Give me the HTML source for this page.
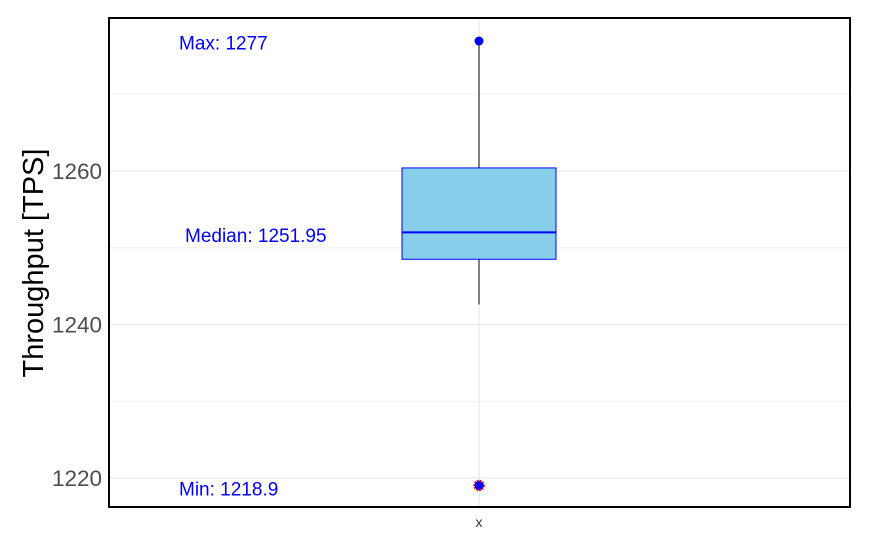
<!DOCTYPE html>
<html><head><meta charset="utf-8"><style>
body{margin:0;background:#fff;font-family:"Liberation Sans",sans-serif}
</style></head><body>
<svg id="c" width="869" height="549" xmlns="http://www.w3.org/2000/svg"></svg>
<script>
const categories=["x"];
const stats={min:1242.6,q1:1248.5,median:1252.0,q3:1260.4,max:1277};
const points=[1277,1218.9];
const labels=["Max: 1277","Median: 1251.95","Min: 1218.9"];
const labelValues=[1277,1251.95,1218.9];
const yTicks=[1220,1240,1260];
const yMinor=[1230,1250,1270];
const NS="http://www.w3.org/2000/svg",svg=document.getElementById('c');
const L=109,R=850,T=18,B=507;
const y=v=>171+(1260-v)*7.675;
const xc=479;
function el(t,a,p){const e=document.createElementNS(NS,t);for(const k in a)e.setAttribute(k,a[k]);(p||svg).appendChild(e);return e;}
el('rect',{x:L,y:T,width:R-L,height:B-T,fill:'#fff'});
yMinor.forEach(v=>{const g=el('line',{x1:L,x2:R,y1:y(v),y2:y(v),stroke:'#f0f0f0','stroke-width':1});

});
yTicks.forEach(v=>{const g=el('line',{x1:L,x2:R,y1:y(v),y2:y(v),stroke:'#e6e6e6','stroke-width':1});


const t=el('text',{x:102,y:y(v)+8,'text-anchor':'end','font-size':22.5,fill:'#4d4d4d'});t.textContent=v;

});
el('line',{x1:xc,x2:xc,y1:T,y2:B,stroke:'#e6e6e6'});
const wl=el('line',{x1:xc,x2:xc,y1:y(stats.max),y2:y(stats.min),stroke:'#000','stroke-width':1});


const bx=el('rect',{x:402,y:y(stats.q3),width:154,height:y(stats.q1)-y(stats.q3),fill:'#87ceeb',stroke:'#0000ff','stroke-width':1});


const md=el('line',{x1:402,x2:556,y1:y(stats.median),y2:y(stats.median),stroke:'#0000ff','stroke-width':2});


points.forEach((v,i)=>{if(v<stats.min){el('circle',{cx:xc,cy:y(v)-1,r:5,fill:'none',stroke:'#f00','stroke-width':1.5,'stroke-dasharray':'2 1'});}
const c=el('circle',{cx:xc,cy:y(v)+(v<stats.min?-1:0.5),r:4.5,fill:'#0000ff'});

});
const lx=[179,185,179];
labels.forEach((s,i)=>{const t=el('text',{x:lx[i],y:y(labelValues[i])+9,'font-size':19,fill:'#0000ff'});t.textContent=s;

});
el('rect',{x:L,y:T,width:R-L,height:B-T,fill:'none',stroke:'#000','stroke-width':2});
const xl=el('text',{x:xc,y:527,'text-anchor':'middle','font-size':14,fill:'#333'});xl.textContent=categories[0];


const yt=el('text',{x:0,y:0,transform:'translate(43,263) rotate(-90)','text-anchor':'middle','font-size':29,fill:'#000'});yt.textContent='Throughput [TPS]';


</script>
</body></html>
